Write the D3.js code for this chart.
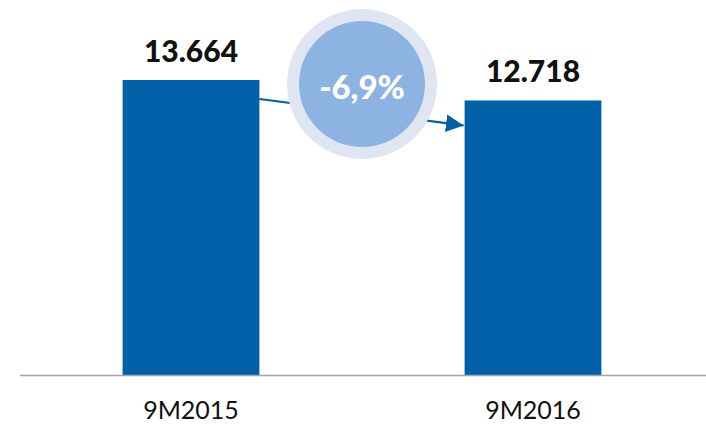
<!DOCTYPE html>
<html>
<head>
<meta charset="utf-8">
<script src="https://cdn.jsdelivr.net/npm/d3@7.9.0/dist/d3.min.js"></script>
<style>
    body { margin: 0; background: #fff; }
    svg { display: block; font-family: 'Lato', 'DejaVu Sans', sans-serif; }
</style>
</head>
<body>
<svg id="chart" width="706" height="424"></svg>
<script>
const periods = ['9M2015', '9M2016'];
const values = [13664, 12718];
const valueLabels = ['13.664', '12.718'];
const changeLabel = '-6,9%';

const width = 706, height = 424;
const baseY = 375.5;

const svg = d3.select('#chart');

let x = d3.scaleBand()
    .domain(periods)
    .range([20, 704])
    .paddingInner(0.6)
    .paddingOuter(0.3);

let y = d3.scaleLinear()
    .domain([0, 13664 * 375.5 / 295.5])
    .range([baseY, 0]);

// bars
svg.selectAll('rect.bar')
    .data(values)
    .join('rect')
    .attr('class', 'bar')
    .attr('x', (d, i) => x(periods[i]))
    .attr('y', d => y(d))
    .attr('width', x.bandwidth())
    .attr('height', d => baseY - y(d))
    .attr('fill', '#0060a8');

// value labels above bars
svg.selectAll('text.val')
    .data(values)
    .join('text')
    .attr('class', 'val')
    .attr('x', (d, i) => x(periods[i]) + x.bandwidth() / 2)
    .attr('y', d => y(d) - 18)
    .attr('text-anchor', 'middle')
    .attr('font-size', 30)
    .attr('font-weight', 900)
    .attr('fill', '#111')
    .text((d, i) => valueLabels[i]);

// x axis
let axis = svg.append('g')
    .attr('transform', `translate(0,${baseY})`)
    .call(d3.axisBottom(x).tickSize(0).tickPadding(26));
axis.select('.domain').attr('stroke', '#a6a6a6').attr('stroke-width', 1.5)
    .attr('d', `M20,0H706`);
axis.selectAll('text')
    .attr('font-size', 25)
    .attr('font-weight', 400)
    .attr('font-family', "'Lato', sans-serif")
    .attr('fill', '#111');

// arrow from bar 1 to bar 2
svg.append('defs').append('marker')
    .attr('id', 'head')
    .attr('viewBox', '0 0 10 10')
    .attr('refX', 10).attr('refY', 5)
    .attr('markerWidth', 8).attr('markerHeight', 8)
    .attr('markerUnits', 'strokeWidth')
    .attr('orient', 'auto')
    .append('path')
    .attr('d', 'M0,0L10,5L0,10z')
    .attr('fill', '#0060a8');

let x1 = x(periods[0]) + x.bandwidth();
let x2 = x(periods[1]);
svg.append('line')
    .attr('x1', x1).attr('y1', y(values[0]) + 19)
    .attr('x2', x2 - 1).attr('y2', y(values[1]) + 25)
    .attr('stroke', '#0060a8')
    .attr('stroke-width', 2.2)
    .attr('marker-end', 'url(#head)');

// change bubble
let cx = (x1 + x2) / 2, cy = 84;
svg.append('circle').attr('cx', cx).attr('cy', cy).attr('r', 75).attr('fill', '#dfe6f2');
svg.append('circle').attr('cx', cx).attr('cy', cy).attr('r', 63).attr('fill', '#8db3e2');
svg.append('text')
    .attr('x', cx).attr('y', cy + 15)
    .attr('text-anchor', 'middle')
    .attr('font-size', 33)
    .attr('font-weight', 900)
    .attr('fill', '#fff')
    .text(changeLabel);
</script>
</body>
</html>
